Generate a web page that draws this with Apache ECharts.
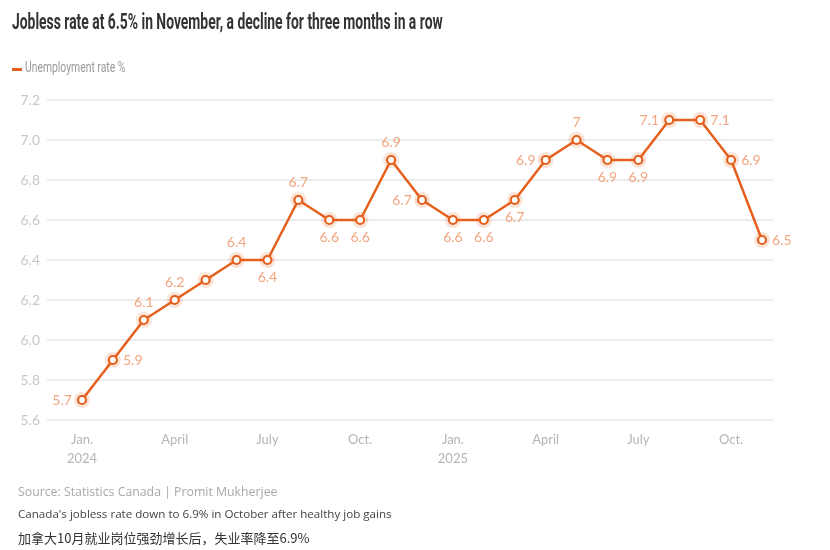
<!DOCTYPE html>
<html><head><meta charset="utf-8">
<script src="https://cdn.jsdelivr.net/npm/echarts@6/dist/echarts.min.js"></script>
<style>html,body{margin:0;padding:0;background:#fff}#c{width:830px;height:550px}</style>
</head><body><div id="c"></div>
<script>
const months = ['Jan. 2024','Feb. 2024','Mar. 2024','Apr. 2024','May 2024','Jun. 2024','Jul. 2024','Aug. 2024','Sep. 2024','Oct. 2024','Nov. 2024','Dec. 2024',
  'Jan. 2025','Feb. 2025','Mar. 2025','Apr. 2025','May 2025','Jun. 2025','Jul. 2025','Aug. 2025','Sep. 2025','Oct. 2025','Nov. 2025'];
const rate = [5.7,5.9,6.1,6.2,6.3,6.4,6.4,6.7,6.6,6.6,6.9,6.7,6.6,6.6,6.7,6.9,7.0,6.9,6.9,7.1,7.1,6.9,6.5];
const tickIndex = [0,3,6,9,12,15,18,21];
const tickLabels = ['Jan.\n2024','April','July','Oct.','Jan.\n2025','April','July','Oct.'];
const seriesName = 'Unemployment rate %';
// label placement per point (style only)
const labelPos = ['left','right','top','top',null,'top','bottom','top','bottom','bottom','top','left',
  'bottom','bottom','bottom','left','top','bottom','bottom','left','right','right','right'];

const ORANGE = '#e5601c';
const LABEL = '#f2a57f';
const chart = echarts.init(document.getElementById('c'));
const pts = rate.map((v,i)=>[i,v]);
chart.setOption({
  animation:false,
  textStyle:{fontFamily:'Lato, "Open Sans", sans-serif'},
  grid:{left:47,right:57,top:100,bottom:130},
  xAxis:{type:'value',min:-1.132,max:22.356,
    axisLine:{show:false},axisTick:{show:false},splitLine:{show:false},
    axisLabel:{customValues:tickIndex,color:'#b5b5b5',fontSize:13,lineHeight:19,margin:10,
      formatter:v=>tickLabels[tickIndex.indexOf(v)]}},
  yAxis:{type:'value',min:5.6,max:7.2,interval:0.2,
    axisLine:{show:false},axisTick:{show:false},
    splitLine:{lineStyle:{color:'#e6e6e6',width:1.5}},
    axisLabel:{color:'#c8c8c8',fontSize:14,margin:7,formatter:v=>v.toFixed(1)}},
  series:[
    {type:'scatter',data:pts,symbolSize:16,silent:true,itemStyle:{color:'rgba(229,96,28,0.22)'},z:1},
    {name:seriesName,type:'line',data:pts.map((p,i)=>({value:p,
        label:labelPos[i]?{show:true,position:labelPos[i]}:{show:false}})),
      symbol:'circle',symbolSize:8,z:3,
      lineStyle:{color:ORANGE,width:2.5},
      itemStyle:{color:'#fff',borderColor:ORANGE,borderWidth:2.2},
      label:{color:LABEL,fontSize:14,distance:5,formatter:p=>String(p.value[1])}}
  ],
  graphic:[
    {type:'text',x:12,y:12,scaleX:0.617,style:{text:'Jobless rate at 6.5% in November, a decline for three months in a row',
      fill:'#333',fontSize:22.5,fontWeight:'bold',fontFamily:'Roboto,sans-serif'}},
    {type:'rect',shape:{x:12,y:68,width:10,height:3},style:{fill:ORANGE}},
    {type:'text',x:25,y:61,scaleX:0.74,style:{text:seriesName,fill:'#999',fontSize:14,fontFamily:'Roboto,sans-serif'}},
    {type:'text',left:18,top:486,style:{text:'Source: Statistics Canada | Promit Mukherjee',fill:'#a8a8a8',fontSize:12.3,fontFamily:'"Open Sans",sans-serif'}},
    {type:'text',left:18,top:509,style:{text:"Canada's jobless rate down to 6.9% in October after healthy job gains",fill:'#444',fontSize:11.6,fontFamily:'"Open Sans",sans-serif'}},
    {type:'text',left:18,top:532,style:{text:'加拿大10月就业岗位强劲增长后，失业率降至6.9%',fill:'#333',fontSize:13,fontFamily:'"Noto Sans CJK SC",sans-serif'}}
  ]
});
</script></body></html>
